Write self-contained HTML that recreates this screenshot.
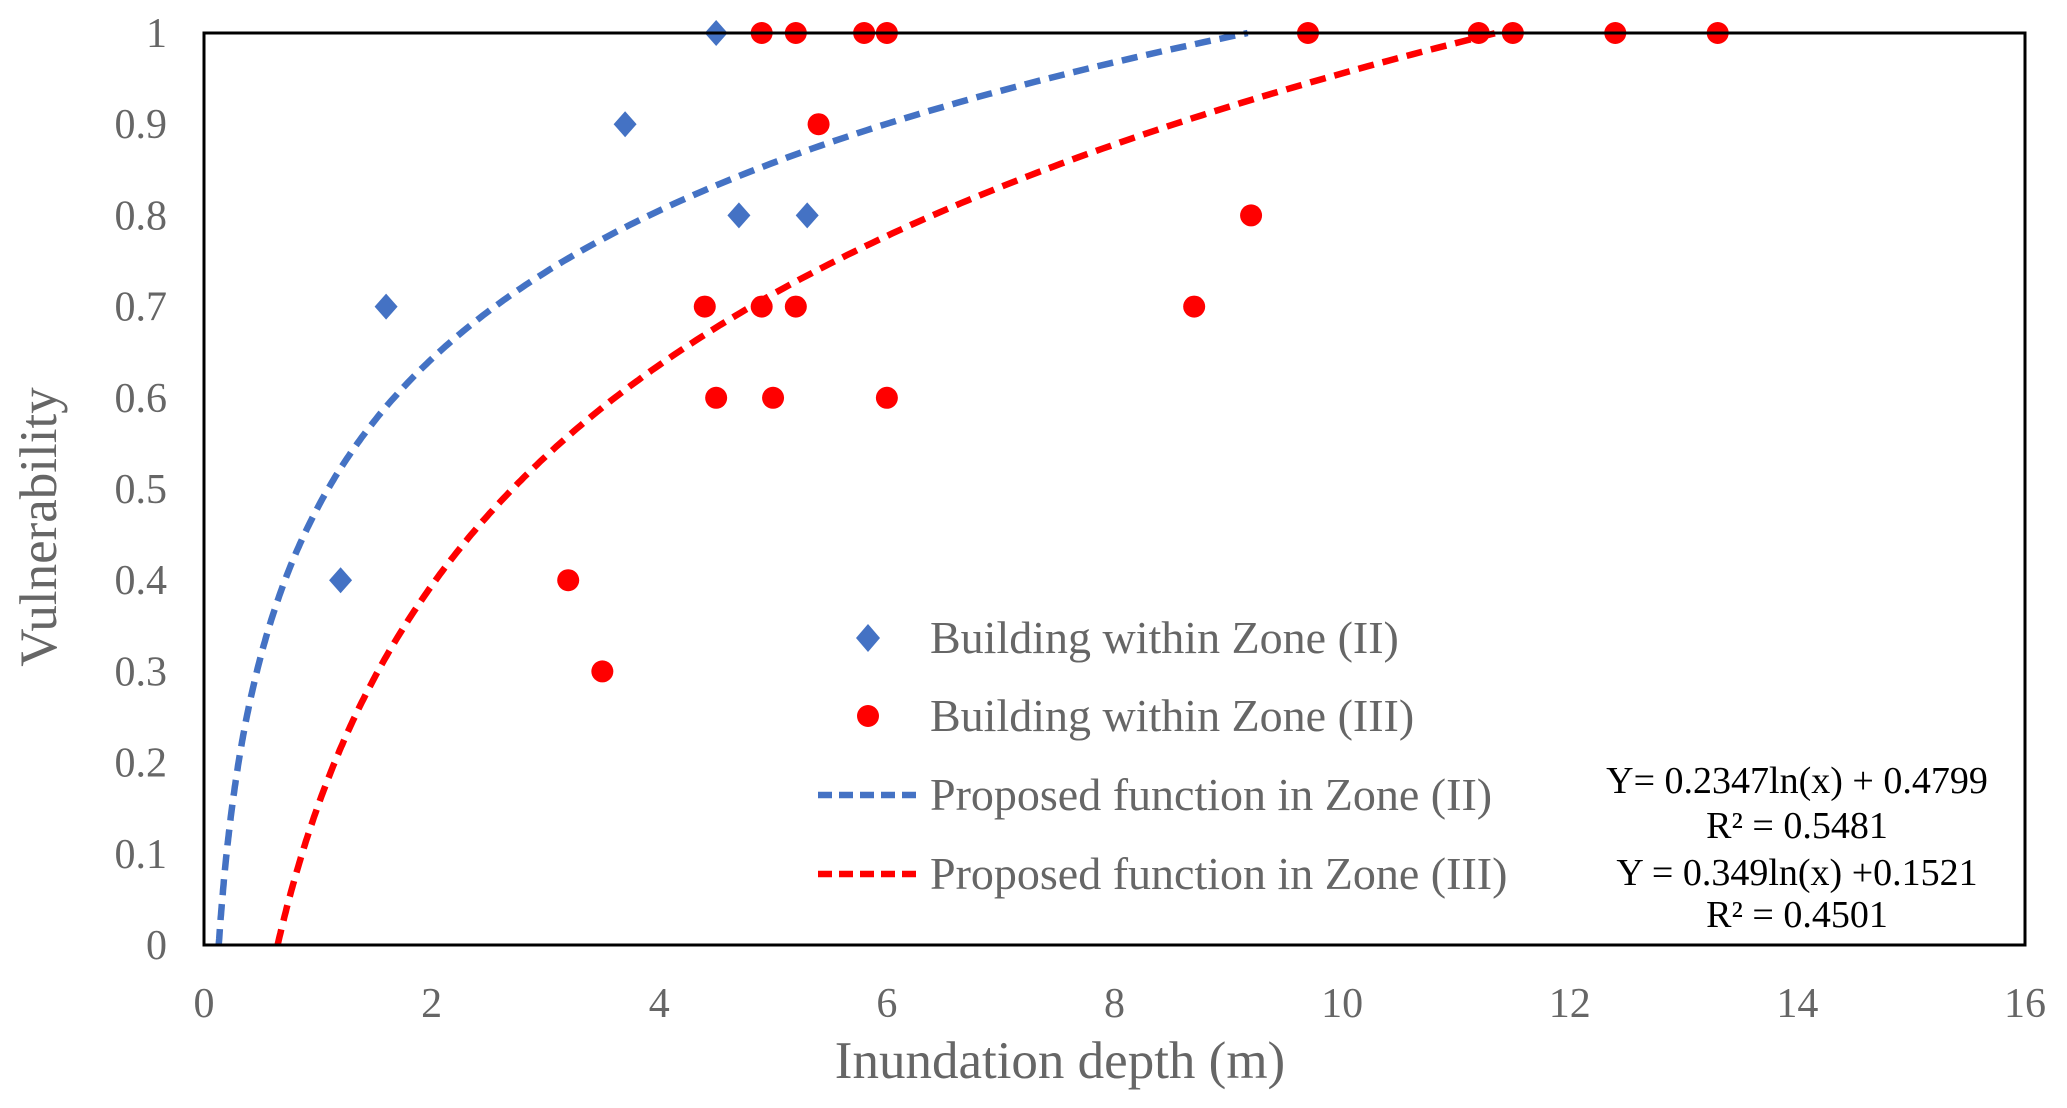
<!DOCTYPE html>
<html><head><meta charset="utf-8"><style>
html,body{margin:0;padding:0;background:#fff;}
svg{display:block;font-family:"Liberation Serif",serif;}
</style></head><body>
<svg id="chart" width="2067" height="1108">
<rect width="2067" height="1108" fill="#fff"/>
<g id="ticks"></g>
<g id="curves"></g>
<g id="points"></g>
<rect x="204" y="33" width="1821" height="912" fill="none" stroke="#000" stroke-width="3"/>
<text x="1060" y="1078" font-size="53" fill="#666" text-anchor="middle">Inundation depth (m)</text>
<text transform="translate(56,527) rotate(-90)" font-size="53" fill="#666" text-anchor="middle">Vulnerability</text>
<g font-size="46" fill="#666">
<polygon points="868,624 880,638 868,652 856,638" fill="#4472C4"/>
<text x="930" y="653">Building within Zone (II)</text>
<circle cx="868" cy="716" r="11" fill="#FF0000"/>
<text x="930" y="731">Building within Zone (III)</text>
<line x1="818" y1="795" x2="922" y2="795" stroke="#4472C4" stroke-width="6.5" stroke-dasharray="14,7"/>
<text x="930" y="810">Proposed function in Zone (II)</text>
<line x1="818" y1="874" x2="922" y2="874" stroke="#FF0000" stroke-width="6.5" stroke-dasharray="14,7"/>
<text x="930" y="889">Proposed function in Zone (III)</text>
</g>
<g font-size="38" fill="#000" text-anchor="middle">
<text x="1797" y="793">Y= 0.2347ln(x) + 0.4799</text>
<text x="1797" y="838">R² = 0.5481</text>
<text x="1797" y="885">Y = 0.349ln(x) +0.1521</text>
<text x="1797" y="927">R² = 0.4501</text>
</g>
</svg>
<script>
const xTicks=[0,2,4,6,8,10,12,14,16];
const yTicks=[0,0.1,0.2,0.3,0.4,0.5,0.6,0.7,0.8,0.9,1];
const yTickLabels=["0","0.1","0.2","0.3","0.4","0.5","0.6","0.7","0.8","0.9","1"];
const zone2X=[1.2,1.6,3.7,4.5,4.7,5.3];
const zone2Y=[0.4,0.7,0.9,1,0.8,0.8];
const zone3X=[4.9,5.2,5.8,6.0,5.4,9.7,11.2,11.5,12.4,13.3,9.2,8.7,4.4,4.9,5.2,4.5,5.0,6.0,3.2,3.5];
const zone3Y=[1,1,1,1,0.9,1,1,1,1,1,0.8,0.7,0.7,0.7,0.7,0.6,0.6,0.6,0.4,0.3];
const fitA=[0.2347,0.349];
const fitB=[0.4799,0.1521];

const NS="http://www.w3.org/2000/svg";
const L=204,R=2025,T=33,B=945;
const sx=v=>L+(v/16)*(R-L);
const sy=v=>B-v*(B-T);
function mk(tag,attrs,parent){const e=document.createElementNS(NS,tag);for(const k in attrs)e.setAttribute(k,attrs[k]);parent.appendChild(e);return e;}
const ticks=document.getElementById('ticks');
xTicks.forEach(v=>{
 const t=mk('text',{x:sx(v),y:1017,'font-size':42,fill:'#666','text-anchor':'middle'},ticks);
 t.textContent=v;
 
 
});
yTicks.forEach((v,i)=>{
 const t=mk('text',{x:167,y:sy(v)+14,'font-size':42,fill:'#666','text-anchor':'end'},ticks);
 t.textContent=yTickLabels[i];
 
 
});
const curves=document.getElementById('curves');
const colors=['#4472C4','#FF0000'];
fitA.forEach((a,k)=>{
 const b=fitB[k];
 const x0=Math.exp((0-b)/a), x1=Math.exp((1-b)/a);
 let d='';
 const n=300;
 for(let i=0;i<=n;i++){
  const x=x0*Math.pow(x1/x0,i/n);
  const y=a*Math.log(x)+b;
  d+=(i?'L':'M')+sx(x).toFixed(1)+','+sy(y).toFixed(1);
 }
 const p=mk('path',{d:d,fill:'none',stroke:colors[k],'stroke-width':6.5,'stroke-dasharray':'16,9'},curves);
 
 
});
const pts=document.getElementById('points');
zone2X.forEach((x,i)=>{
 const cx=sx(x),cy=sy(zone2Y[i]);
 const p=mk('polygon',{points:`${cx},${cy-13} ${cx+11.5},${cy} ${cx},${cy+13} ${cx-11.5},${cy}`,fill:'#4472C4'},pts);
 
 
});
zone3X.forEach((x,i)=>{
 const c=mk('circle',{cx:sx(x),cy:sy(zone3Y[i]),r:11,fill:'#FF0000'},pts);
 
 
});
</script>
</body></html>
